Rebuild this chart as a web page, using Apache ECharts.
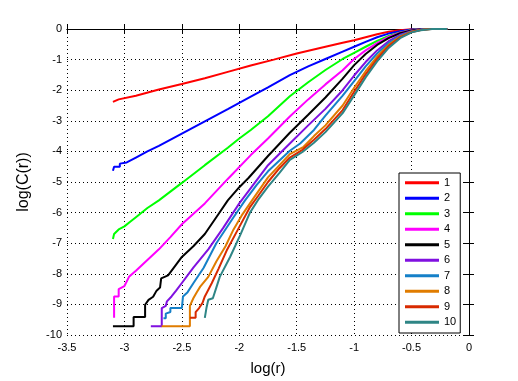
<!DOCTYPE html>
<html>
<head>
<meta charset="utf-8">
<script src="https://cdn.jsdelivr.net/npm/echarts@6/dist/echarts.min.js"></script>
<style>
  html, body { margin: 0; padding: 0; background: #fff; }
  #chart { width: 518px; height: 381px; }
</style>
</head>
<body>
<div id="chart"></div>
<script>
// correlation integral, one curve per embedding dimension: [log(r), log(C(r))]
const curve1 = [[-3.10,-2.38],[-3.05,-2.30],[-2.9,-2.18],[-2.7,-1.98],[-2.5,-1.80],[-2.3,-1.61],[-2.1,-1.40],[-1.9,-1.19],[-1.7,-1.00],[-1.5,-0.80],[-1.25,-0.58],[-1.1,-0.45],[-1.0,-0.37],[-0.9,-0.27],[-0.8,-0.17],[-0.7,-0.09],[-0.6,-0.04],[-0.5,-0.01],[-0.4,0],[-0.19,0]];
const curve2 = [[-3.10,-4.63],[-3.09,-4.63],[-3.09,-4.50],[-3.04,-4.50],[-3.04,-4.40],[-2.98,-4.36],[-2.9,-4.2],[-2.8,-4.0],[-2.7,-3.82],[-2.5,-3.42],[-2.3,-3.02],[-2.1,-2.62],[-1.9,-2.21],[-1.75,-1.91],[-1.56,-1.51],[-1.4,-1.22],[-1.25,-0.98],[-1.1,-0.74],[-1.0,-0.58],[-0.9,-0.42],[-0.8,-0.27],[-0.7,-0.15],[-0.6,-0.07],[-0.5,-0.02],[-0.42,0],[-0.19,0]];
const curve3 = [[-3.10,-6.86],[-3.09,-6.70],[-3.05,-6.55],[-3.0,-6.45],[-2.95,-6.30],[-2.9,-6.15],[-2.8,-5.85],[-2.7,-5.6],[-2.5,-5.03],[-2.3,-4.45],[-2.1,-3.88],[-2.0,-3.58],[-1.9,-3.30],[-1.75,-2.85],[-1.56,-2.20],[-1.4,-1.74],[-1.25,-1.34],[-1.1,-0.98],[-1.0,-0.78],[-0.9,-0.58],[-0.8,-0.39],[-0.7,-0.23],[-0.6,-0.11],[-0.5,-0.03],[-0.42,0],[-0.19,0]];
const curve4 = [[-3.09,-9.44],[-3.09,-8.74],[-3.05,-8.74],[-3.05,-8.50],[-3.0,-8.40],[-2.96,-8.1],[-2.9,-7.9],[-2.8,-7.55],[-2.7,-7.2],[-2.6,-6.8],[-2.5,-6.38],[-2.3,-5.70],[-2.1,-4.90],[-1.9,-4.12],[-1.75,-3.58],[-1.56,-2.86],[-1.4,-2.30],[-1.25,-1.81],[-1.1,-1.35],[-1.0,-0.98],[-0.9,-0.70],[-0.8,-0.46],[-0.7,-0.26],[-0.6,-0.12],[-0.5,-0.04],[-0.42,0],[-0.19,0]];
const curve5 = [[-3.10,-9.71],[-2.92,-9.71],[-2.92,-9.41],[-2.82,-9.41],[-2.82,-9.01],[-2.79,-8.85],[-2.75,-8.75],[-2.72,-8.55],[-2.69,-8.45],[-2.68,-8.15],[-2.62,-8.05],[-2.55,-7.7],[-2.5,-7.45],[-2.4,-7.1],[-2.3,-6.7],[-2.2,-6.15],[-2.1,-5.6],[-2.0,-5.17],[-1.92,-4.87],[-1.75,-4.15],[-1.56,-3.39],[-1.4,-2.8],[-1.25,-2.24],[-1.1,-1.62],[-1.0,-1.18],[-0.9,-0.82],[-0.8,-0.52],[-0.7,-0.30],[-0.6,-0.14],[-0.5,-0.05],[-0.42,-0.01],[-0.38,0],[-0.19,0]];
const curve6 = [[-2.77,-9.71],[-2.675,-9.71],[-2.675,-9.12],[-2.64,-9.05],[-2.63,-8.9],[-2.59,-8.74],[-2.55,-8.55],[-2.5,-8.3],[-2.4,-7.8],[-2.27,-7.2],[-2.14,-6.5],[-2.0,-5.7],[-1.82,-4.8],[-1.75,-4.45],[-1.56,-3.74],[-1.4,-3.15],[-1.25,-2.61],[-1.1,-2.0],[-1.0,-1.52],[-0.9,-1.08],[-0.8,-0.70],[-0.7,-0.40],[-0.6,-0.19],[-0.5,-0.07],[-0.42,-0.02],[-0.36,0],[-0.19,0]];
const curve7 = [[-2.66,-9.45],[-2.64,-9.45],[-2.64,-9.3],[-2.6,-9.25],[-2.6,-9.12],[-2.5,-9.12],[-2.49,-8.74],[-2.45,-8.6],[-2.4,-8.31],[-2.31,-7.8],[-2.2,-7.0],[-2.05,-6.15],[-1.95,-5.6],[-1.85,-5.1],[-1.75,-4.65],[-1.56,-3.98],[-1.47,-3.74],[-1.35,-3.3],[-1.25,-2.83],[-1.1,-2.18],[-1.0,-1.70],[-0.9,-1.22],[-0.8,-0.8],[-0.7,-0.46],[-0.6,-0.22],[-0.5,-0.08],[-0.42,-0.02],[-0.35,0],[-0.19,0]];
const curve8 = [[-2.676,-9.71],[-2.43,-9.71],[-2.43,-9.05],[-2.40,-8.8],[-2.37,-8.6],[-2.34,-8.42],[-2.27,-8.1],[-2.2,-7.6],[-2.12,-7.1],[-2.05,-6.55],[-1.98,-6.1],[-1.88,-5.55],[-1.75,-4.85],[-1.56,-4.09],[-1.44,-3.85],[-1.35,-3.5],[-1.25,-3.15],[-1.1,-2.5],[-1.0,-1.92],[-0.9,-1.38],[-0.8,-0.9],[-0.7,-0.52],[-0.6,-0.25],[-0.5,-0.09],[-0.42,-0.03],[-0.34,0],[-0.19,0]];
const curve9 = [[-2.43,-9.44],[-2.38,-9.44],[-2.38,-9.25],[-2.35,-9.12],[-2.32,-8.95],[-2.30,-8.74],[-2.24,-8.31],[-2.18,-7.83],[-2.11,-7.24],[-2.01,-6.54],[-1.91,-5.84],[-1.835,-5.45],[-1.75,-5.0],[-1.65,-4.55],[-1.56,-4.20],[-1.45,-3.95],[-1.35,-3.62],[-1.25,-3.27],[-1.1,-2.65],[-1.0,-2.05],[-0.9,-1.48],[-0.8,-0.98],[-0.7,-0.56],[-0.6,-0.27],[-0.5,-0.10],[-0.42,-0.03],[-0.33,0],[-0.19,0]];
const curve10 = [[-2.30,-9.44],[-2.285,-9.44],[-2.285,-9.1],[-2.27,-8.85],[-2.23,-8.8],[-2.2,-8.45],[-2.17,-8.1],[-2.08,-7.45],[-1.99,-6.72],[-1.907,-6.0],[-1.83,-5.55],[-1.75,-5.15],[-1.65,-4.7],[-1.56,-4.28],[-1.45,-4.02],[-1.35,-3.72],[-1.25,-3.37],[-1.1,-2.75],[-1.0,-2.17],[-0.9,-1.58],[-0.8,-1.06],[-0.7,-0.62],[-0.6,-0.30],[-0.5,-0.11],[-0.42,-0.04],[-0.32,0],[-0.19,0]];

const curves = [curve1, curve2, curve3, curve4, curve5, curve6, curve7, curve8, curve9, curve10];
const dimNames = ['1', '2', '3', '4', '5', '6', '7', '8', '9', '10'];
const colors = ['#ff0000', '#0000ff', '#00ff00', '#ff00ff', '#000000', '#8010e0', '#1580c8', '#e07c00', '#d82a00', '#2e8585'];

const FONT = '"Liberation Sans", Arial, Helvetica, sans-serif';

const chart = echarts.init(document.getElementById('chart'), null, { renderer: 'canvas' });

const dotted = { color: '#000', width: 1, type: [1, 3] };
const frameLine = { show: true, lineStyle: { color: '#000', width: 1 } };
const insideTick = { show: true, inside: true, length: 5, lineStyle: { color: '#000' } };

const option = {
  animation: false,
  backgroundColor: '#fff',
  color: colors,
  grid: { left: 67, top: 29, width: 402, height: 310, containLabel: false },
  legend: {
    data: dimNames,
    orient: 'vertical',
    left: 399,
    top: 173,
    backgroundColor: '#fff',
    borderColor: '#000',
    borderWidth: 1,
    borderRadius: 0,
    padding: [2, 4, 3, 6],
    itemGap: 0,
    itemWidth: 34,
    itemHeight: 3,
    icon: 'rect',
    textStyle: { fontFamily: FONT, fontSize: 11, color: '#000', lineHeight: 15.5 }
  },
  xAxis: [
    {
      type: 'value', min: -3.5, max: 0, interval: 0.5,
      name: 'log(r)', nameLocation: 'middle', nameGap: 26,
      nameTextStyle: { fontFamily: FONT, fontSize: 15, color: '#000' },
      axisLine: frameLine, axisTick: insideTick,
      axisLabel: { fontFamily: FONT, fontSize: 11, color: '#000', margin: 7 },
      splitLine: { show: true, lineStyle: dotted }
    },
    {
      type: 'value', min: -3.5, max: 0, interval: 0.5, position: 'top',
      axisLine: frameLine, axisTick: insideTick,
      axisLabel: { show: false }, splitLine: { show: false }
    }
  ],
  yAxis: [
    {
      type: 'value', min: -10, max: 0, interval: 1,
      name: 'log(C(r))', nameLocation: 'middle', nameGap: 35,
      nameTextStyle: { fontFamily: FONT, fontSize: 16, color: '#000' },
      axisLine: frameLine, axisTick: insideTick,
      axisLabel: { fontFamily: FONT, fontSize: 11, color: '#000', margin: 5 },
      splitLine: { show: true, lineStyle: dotted }
    },
    {
      type: 'value', min: -10, max: 0, interval: 1, position: 'right',
      axisLine: frameLine, axisTick: insideTick,
      axisLabel: { show: false }, splitLine: { show: false }
    }
  ],
  series: curves.map((pts, i) => ({
    name: dimNames[i],
    type: 'line',
    data: pts,
    xAxisIndex: 0,
    yAxisIndex: 0,
    showSymbol: false,
    symbol: 'none',
    lineStyle: { width: 2, color: colors[i] },
    itemStyle: { color: colors[i] },
    emphasis: { disabled: true }
  }))
};

chart.setOption(option);
</script>
</body>
</html>
